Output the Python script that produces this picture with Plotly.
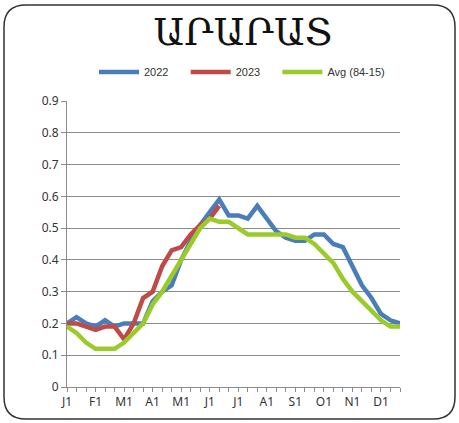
import plotly.graph_objects as go

month_labels = ["J1", "F1", "M1", "A1", "M1", "J1", "J1", "A1", "S1", "O1", "N1", "D1"]
label_index = [0, 3, 6, 9, 12, 15, 18, 21, 24, 27, 30, 33]

y2022 = [0.20, 0.22, 0.20, 0.19, 0.21, 0.19, 0.20, 0.20, 0.20, 0.27, 0.30, 0.32,
         0.40, 0.46, 0.51, 0.55, 0.59, 0.54, 0.54, 0.53, 0.57, 0.53, 0.49, 0.47,
         0.46, 0.46, 0.48, 0.48, 0.45, 0.44, 0.38, 0.32, 0.28, 0.23, 0.21, 0.20]
y2023 = [0.20, 0.20, 0.19, 0.18, 0.19, 0.19, 0.15, 0.20, 0.28, 0.30, 0.38, 0.43,
         0.44, 0.48, 0.51, 0.53, 0.57]
yavg = [0.19, 0.17, 0.14, 0.12, 0.12, 0.12, 0.14, 0.17, 0.20, 0.26, 0.30, 0.35,
        0.40, 0.45, 0.50, 0.53, 0.52, 0.52, 0.50, 0.48, 0.48, 0.48, 0.48, 0.48,
        0.47, 0.47, 0.45, 0.42, 0.39, 0.34, 0.30, 0.27, 0.24, 0.21, 0.19, 0.19]
y_ticks = [0, 0.1, 0.2, 0.3, 0.4, 0.5, 0.6, 0.7, 0.8, 0.9]
y_ticktext = ["0", "0.1", "0.2", "0.3", "0.4", "0.5", "0.6", "0.7", "0.8", "0.9"]
series_names = ["2022", "2023", "Avg (84-15)"]

W, H = 459, 423
L, R, T, B = 67, 59, 101, 36
pw, ph = W - L - R, H - T - B
PAD = "\u00a0" * 4

fig = go.Figure()
fig.add_trace(go.Scatter(x=list(range(len(y2022))), y=y2022, mode="lines", name=series_names[0] + PAD,
                         line=dict(color="#4A7EBB", width=4.5)))
fig.add_trace(go.Scatter(x=list(range(len(y2023))), y=y2023, mode="lines", name=series_names[1] + PAD,
                         line=dict(color="#BE4B48", width=4.5)))
fig.add_trace(go.Scatter(x=list(range(len(yavg))), y=yavg, mode="lines", name=series_names[2],
                         line=dict(color="#9BCB2A", width=4.5)))

def px2paper_x(px):
    return (px - L) / pw

def px2paper_y(py):
    return (H - B - py) / ph

x0, x1 = px2paper_x(4), px2paper_x(455)
y0, y1 = px2paper_y(419), px2paper_y(5)
rx, ry = 22 / pw, 22 / ph
path = (f"M {x0+rx},{y1} L {x1-rx},{y1} Q {x1},{y1} {x1},{y1-ry} "
        f"L {x1},{y0+ry} Q {x1},{y0} {x1-rx},{y0} L {x0+rx},{y0} "
        f"Q {x0},{y0} {x0},{y0+ry} L {x0},{y1-ry} Q {x0},{y1} {x0+rx},{y1} Z")

fig.update_layout(
    width=W, height=H,
    margin=dict(l=L, r=R, t=T, b=B),
    paper_bgcolor="white", plot_bgcolor="white",
    title=dict(text="ԱՐԱՐԱՏ", x=243 / W, xref="container", xanchor="center",
               y=1 - 32 / H, yref="container", yanchor="middle",
               font=dict(family="DejaVu Serif", size=38, color="#111111")),
    legend=dict(orientation="h", x=px2paper_x(242), xanchor="center",
                y=px2paper_y(72), yanchor="middle",
                font=dict(family="Liberation Sans", size=11, color="#333333"),
                bgcolor="rgba(0,0,0,0)", itemwidth=40, tracegroupgap=0),
    showlegend=True,
    shapes=[dict(type="path", path=path, xref="paper", yref="paper",
                 line=dict(color="#333333", width=1.5), fillcolor="rgba(0,0,0,0)",
                 layer="below")],
    xaxis=dict(range=[0, 35], tickmode="array", tickvals=label_index, ticktext=month_labels,
               showgrid=False, zeroline=False, showline=True, linecolor="#8c8c8c", linewidth=1,
               ticks="outside", ticklen=4, tickcolor="#8c8c8c",
               minor=dict(dtick=1, tick0=0, ticks="outside", ticklen=4, tickcolor="#8c8c8c", showgrid=False),
               tickfont=dict(family="Noto Sans", size=12, color="#333333")),
    yaxis=dict(range=[0, 0.9], tickmode="array", tickvals=y_ticks, ticktext=y_ticktext,
               showgrid=True, gridcolor="#8c8c8c", gridwidth=1, zeroline=False,
               showline=True, linecolor="#8c8c8c", linewidth=1,
               ticks="outside", ticklen=5, tickcolor="#8c8c8c",
               tickfont=dict(family="Noto Sans", size=12, color="#333333")),
)

fig.write_html("out.html", config={"displayModeBar": False},
               post_script="document.body.style.margin='0';document.body.style.padding='0';")
